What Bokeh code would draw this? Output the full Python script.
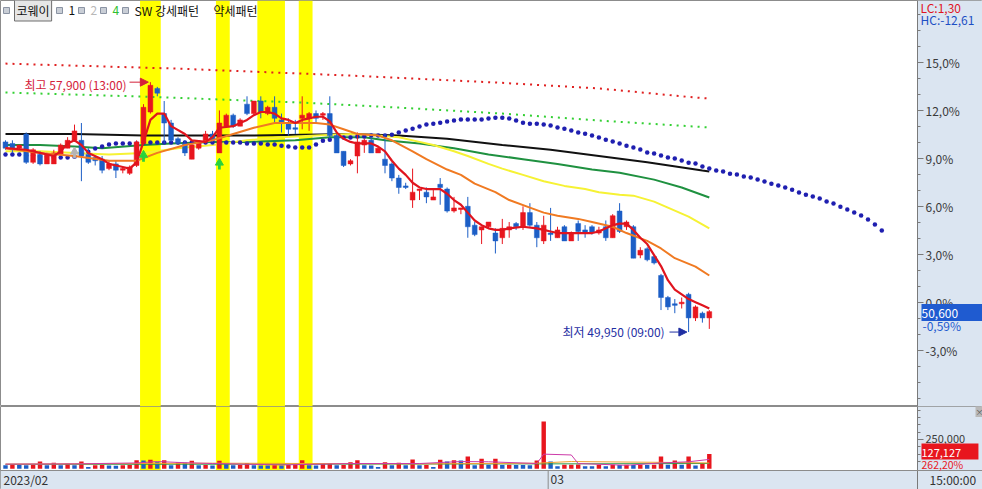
from bokeh.plotting import figure
from bokeh.layouts import column
from bokeh.models import (Range1d, Label, Arrow, NormalHead, FixedTicker, LinearAxis, Span,
                          CustomJSTickFormatter, NumeralTickFormatter)
from bokeh.embed import file_html
from bokeh.resources import INLINE

# ---------------- data ----------------
BASE = 50900            # previous close, 0.0 % line
stock_name = "코웨이"
open_ = [56000,55950,55800,56250,55350,55600,55300,55300,55600,55800,
         56050,56050,55600,55500,55450,55150,55300,55100,55000,55250,
         55950,56950,57700,56900,56600,56100,55950,55450,55800,56000,
         56250,55650,56500,56850,56500,57200,56900,57300,56900,57100,
         56700,56600,56450,56750,56750,56900,56850,56900,56200,55700,
         55300,55550,55900,56050,55650,55450,55300,54850,54600,54150,
         54450,54400,54150,54650,54500,53800,53850,53950,53350,53200,
         53300,53100,52950,53200,53400,53300,53750,53350,52850,53100,
         52950,53300,52850,53400,53200,53300,53100,53300,52950,53800,
         53300,53300,52400,52600,52350,51750,51050,50850,50850,51150,
         50400,50550,50400]
high = [56050,56050,55900,56300,55800,55700,55650,55750,55950,56150,
        56550,56600,55800,55550,55550,55400,55400,55200,55250,56050,
        57200,57900,57750,57300,56700,56150,56050,55950,56000,56350,
        56350,57000,56900,56900,56750,57450,57300,57450,57150,57450,
        56900,56750,56700,57450,56950,57000,56950,57450,56250,55700,
        55450,56300,56100,56150,55850,56250,55350,54950,54700,55150,
        54500,54550,54500,54850,54550,54250,53900,54250,53450,53300,
        53450,53250,53550,53450,53450,53950,54050,53450,53650,53900,
        53300,53350,53150,53500,53350,53350,53300,53500,53700,54050,
        53500,53350,52650,52650,52400,51800,51100,51000,51050,51200,
        50800,50600,50650]
low = [55750,55650,55750,55300,55300,55250,55300,55300,55550,55800,
       56000,54750,55300,55250,55000,55100,54850,55000,54950,55200,
       55900,56900,57450,55950,56000,55900,55550,55450,55750,55950,
       56000,55650,56450,56450,56500,56850,56850,56750,56850,56600,
       56300,56200,56250,56400,56350,56600,56700,56100,55650,55200,
       55250,55000,55650,55650,55650,55000,54750,54350,54500,53900,
       54150,54050,54150,54000,53750,53750,53700,52950,53000,52750,
       53250,52450,52750,52950,53200,53200,53300,52650,52750,52850,
       52950,52850,52850,52850,52950,53050,53050,52850,52950,53100,
       53200,52300,52300,52200,52100,50650,50650,50550,50700,49950,
       50300,50250,50050]
close = [55800,55750,55900,55350,55750,55300,55600,55650,55900,56050,
         56350,55550,55350,55400,55100,55300,55100,55150,55200,56000,
         57100,57800,57550,56600,56050,55950,55650,55900,56000,56250,
         56050,56600,56850,56500,56700,56900,57300,56950,57100,56750,
         56600,56400,56400,56850,56900,56750,56900,56200,55650,55250,
         55400,56000,56050,55650,55800,55250,54850,54550,54550,54400,
         54500,54250,54250,54550,53800,53900,53900,53300,53050,53300,
         53450,52850,53250,53300,53300,53750,53350,52950,53350,53050,
         53200,52850,53100,53150,53100,53100,53200,52950,53650,53150,
         53450,52300,52550,52250,52150,51050,50750,50800,50900,50400,
         50750,50400,50600]
volume = [30000,42000,35000,30000,32000,62000,30000,52000,31000,43000,
          30000,62000,15000,30000,33000,28000,27000,30000,33000,72000,
          70000,78000,56000,72000,30000,56000,52000,69000,30000,33000,
          29000,69000,43000,30000,32000,50000,30000,29000,28000,31000,
          29000,32000,34000,72000,30000,29000,43000,50000,30000,32000,
          55000,72000,30000,29000,15000,55000,30000,52000,30000,80000,
          30000,32000,15000,77000,62000,72000,71000,105000,30000,86000,
          34000,85000,33000,34000,33000,32000,31000,71000,403000,62000,
          21000,34000,35000,36000,22000,21000,34000,21000,34000,33000,
          35000,33000,35000,33000,35000,105000,34000,71000,34000,105000,
          28000,48484,127127]

# indicator lines (sampled: bar index, price)
ma_red_i = [0,3,5,7,8,9,10,11,12,14,15,17,18,19,20,21,22,23,24,26,27,29,30,31,33,34,35,36,37,38,
            39,40,41,42,43,44,45,46,47,48,49,50,51,52,53,54,55,56,57,58,59,60,61,63,64,65,66,67,68,69,
            70,71,72,73,75,77,78,79,80,85,86,87,88,89,90,91,92,93,94,95,96,97,98,99,100,101,102]
ma_red = [55800,55750,55650,55550,55700,55950,56050,55900,55650,55450,55300,55200,55150,55350,56000,56700,56900,56900,56500,56250,
          56050,56000,56150,56450,56500,56600,56700,56850,56950,56950,56900,56750,56700,56600,56700,56750,56800,56800,56650,56300,
          56100,56000,55950,55950,55950,55850,55700,55400,55150,54950,54700,54550,54500,54500,54350,54150,54000,53750,53500,53350,
          53250,53200,53200,53250,53300,53250,53200,53150,53100,53100,53150,53250,53350,53400,53400,53200,52950,52750,52400,52050,
          51600,51300,51150,51000,50900,50800,50700]
ma_orange_i = [0,5,10,15,19,22,26,30,33,36,39,42,45,47,49,51,54,56,59,61,64,66,68,71,73,76,78,80,83,85,88,90,93,95,97,100,102]
ma_orange = [55800,55650,55550,55400,55400,55650,55900,56050,56250,56450,56600,56600,56600,56550,56400,56250,56200,56050,55700,55450,
             55120,54950,54670,54400,54150,53910,53750,53650,53550,53450,53300,53100,52850,52610,52300,52030,51750]
ma_yellow_i = [0,5,10,15,20,25,30,35,40,45,50,54,57,60,62,65,67,70,72,75,78,81,84,86,89,91,94,96,99,102]
ma_yellow = [55700,55700,55650,55600,55650,55800,55900,56050,56150,56200,56250,56200,56150,56000,55900,55700,55550,55300,55150,54950,
             54750,54600,54500,54400,54320,54290,54100,53910,53620,53250]
ma_green_i = [0,5,10,14,20,24,30,35,42,47,52,55,60,65,70,75,80,85,89,94,98,102]
ma_green = [55900,55900,55850,55800,55900,55950,56000,56000,56050,56150,56150,56050,55950,55800,55600,55450,55300,55120,55020,54800,
            54550,54230]
ma_black_i = [0,10,20,35,50,57,64,72,79,86,93,101,102]
ma_black = [56250,56250,56200,56200,56250,56200,56100,55900,55750,55550,55350,55090,55060]
env_red_i = [0,25,50,71,86,100,102]
env_red = [58490,58330,58110,57890,57700,57410,57380]
env_green_i = [0,20,43,57,72,86,102]
env_green = [57570,57440,57250,57090,56900,56680,56460]
# leading span (one value per bar, runs 25 bars past the last candle)
span = [55600,55600,55600,55570,55570,55530,55530,55500,55500,55500,
        55530,55600,55690,55790,55850,55920,55950,55950,55950,55950,
        55980,55980,55980,55980,55980,55980,55980,55980,55980,55980,
        55980,55980,55980,55980,55980,55950,55950,55950,55920,55920,
        55880,55850,55820,55820,55820,55920,56040,56070,56110,56140,
        56140,56170,56170,56200,56200,56200,56230,56300,56360,56420,
        56490,56550,56580,56610,56650,56680,56710,56710,56710,56710,
        56740,56770,56770,56740,56680,56610,56580,56580,56550,56520,
        56460,56420,56360,56300,56260,56200,56140,56070,56010,55950,
        55880,55820,55760,55660,55630,55570,55500,55470,55410,55340,
        55310,55220,55150,
        55090,55060,54990,54960,54900,54870,54800,54740,54670,54610,
        54550,54480,54390,54320,54260,54200,54100,54040,53940,53850,
        53750,53660,53530,53370,53180]
# volume moving averages (sampled)
vma_a_i = [0,10,19,22,26,30,40,50,60,66,70,77,78,82,83,90,95,99,102]
vma_a = [40000,42000,50000,62000,52000,45000,33000,45000,45000,62000,60000,45000,125000,118000,45000,30000,50000,60000,80000]
vma_b_i = [0,30,60,77,82,95,102]
vma_b = [40000,48000,42000,48000,62000,55000,50000]
vma_c_i = [0,50,78,102]
vma_c = [38000,40000,42000,45000]

strong_idx = [20,21,22,31,32,37,38,39,40,43,44]   # SW 강세패턴 bars
buy_idx = [20, 31]
gray_idx = [10]
pct_ticks = [-3, 0, 3, 6, 9, 12, 15]
vol_ticks = [250000]
month_labels = ["2023/02", "03"]
month_start = 78
hi_time, lo_time, last_time = "13:00", "09:00", "15:00:00"

# ---------------- helpers ----------------
def pct(vals):
    return [(v / BASE - 1) * 100 for v in vals]

def fmt_pct(x, nd=2):
    return f"{x:.{nd}f}".replace(".", ",")

n = len(close)
idx = list(range(n))
UP, DN = "#e8161e", "#1c5ec6"
AXBG = "#dbe5f1"
GRID = "#8c8c8c"
FONT = "Noto Sans CJK KR"
cols = [UP if c >= o else DN for o, c in zip(open_, close)]
vcols = [DN] + [UP if volume[i] >= volume[i - 1] else DN for i in range(1, n)]

W, H_MAIN, H_VOL = 982, 406, 83

def rx(px):  # page pixel -> bar index
    return (px - 5) / 6.9
def ry(px):  # page pixel -> % (main panel)
    return (301.7 - px) / 16.0
def rv(px):  # page pixel -> volume (volume panel, page y)
    return (468.3 - px) * 8530

X0, X1 = rx(0), rx(W)
Y0, Y1 = ry(H_MAIN), ry(0)
V0, V1 = rv(489), rv(H_MAIN)
AX_X = rx(917)

def lab(fig, x, y, text, color="#222222", size="12px", align="left", bg=None, border=None, pad=0):
    kw = dict(x=x, y=y, text=text, text_color=color, text_font=FONT, text_font_size=size,
              text_align=align, text_baseline="middle")
    if bg is not None:
        kw["background_fill_color"] = bg
        kw["padding"] = pad
    if border is not None:
        kw["border_line_color"] = border
    fig.add_layout(Label(**kw))

def style_axis(ax, size="12px"):
    ax.major_tick_in = 0
    ax.major_tick_out = 6
    ax.minor_tick_in = 0
    ax.minor_tick_out = 3
    ax.axis_line_color = "#7a7a7a"
    ax.major_tick_line_color = "#7a7a7a"
    ax.minor_tick_line_color = "#7a7a7a"
    ax.major_label_text_font = FONT
    ax.major_label_text_font_size = size
    ax.major_label_text_color = "#3a3a3a"
    ax.major_label_standoff = 2

# contiguous runs of signal bars
runs = []
for i in sorted(strong_idx):
    if runs and i == runs[-1][1] + 1:
        runs[-1][1] = i
    else:
        runs.append([i, i])
band_l = [a - 0.5 for a, b in runs]
band_r = [b + 0.5 for a, b in runs]

xr = Range1d(X0, X1)

# ---------------- main price panel ----------------
p = figure(width=W, height=H_MAIN, x_range=xr, y_range=Range1d(Y0, Y1),
           x_axis_location=None, y_axis_location=None,
           output_backend="svg", toolbar_location=None, min_border=0,
           background_fill_color="white", border_fill_color="white", outline_line_color=GRID)
p.grid.visible = False
p.quad(left=AX_X, right=X1, bottom=Y0, top=Y1, fill_color=AXBG, line_color=None)
ya = LinearAxis(fixed_location=AX_X,
                ticker=FixedTicker(ticks=pct_ticks, minor_ticks=list(range(-6, 19))),
                formatter=CustomJSTickFormatter(code="return tick.toFixed(1).replace('.', ',') + '%';"))
style_axis(ya)
p.add_layout(ya, "right")

p.quad(left=band_l, right=band_r, bottom=Y0, top=Y1, fill_color="#ffff00", line_color=None)

p.line(ma_black_i, pct(ma_black), line_color="#111111", line_width=2)
p.line(ma_green_i, pct(ma_green), line_color="#1f9140", line_width=2)
p.line(ma_yellow_i, pct(ma_yellow), line_color="#f6f234", line_width=2)
p.line(env_red_i, pct(env_red), line_color="#e02020", line_width=2, line_dash="2 5")
p.line(env_green_i, pct(env_green), line_color="#33d033", line_width=2, line_dash="2 5")
p.scatter(list(range(len(span))), pct(span), size=4.5, fill_color="#1f1fb0", line_color=None)

p.segment(x0=idx, y0=pct(high), x1=idx, y1=pct(low), line_color=cols, line_width=1)
p.vbar(x=idx, width=0.7, top=pct([max(o, c) for o, c in zip(open_, close)]),
       bottom=pct([min(o, c) for o, c in zip(open_, close)]), fill_color=cols, line_color=cols, line_width=0.5)

p.line(ma_orange_i, pct(ma_orange), line_color="#f07a22", line_width=2)
p.line(ma_red_i, pct(ma_red), line_color="#e0141e", line_width=2.2)

# signal arrows under bars
def arrows(ids, color):
    hy = [(low[i] / BASE - 1) * 100 - 0.62 for i in ids]
    p.scatter(ids, hy, marker="triangle", size=8, fill_color=color, line_color=color)
    p.vbar(x=ids, width=0.4, top=[h - 0.1 for h in hy], bottom=[h - 0.42 for h in hy],
           fill_color=color, line_color=None)
arrows(buy_idx, "#2ad23c")
arrows(gray_idx, "#b4b4b4")

# high / low markers
max_hi = max(high); i_hi = high.index(max_hi)
min_lo = min(low); i_lo = low.index(min_lo)
HI_C, LO_C = "#d4213a", "#1f2fa3"
lab(p, rx(24), ry(84), f"최고 {max_hi:,} ({hi_time})", HI_C, "12px")
p.add_layout(Arrow(end=NormalHead(size=8, fill_color=HI_C, line_color=HI_C), x_start=rx(129),
                   y_start=pct([max_hi])[0], x_end=i_hi - 0.3, y_end=pct([max_hi])[0],
                   line_color=HI_C, line_width=1))
lab(p, rx(562), ry(331), f"최저 {min_lo:,} ({lo_time})", LO_C, "12px")
p.add_layout(Arrow(end=NormalHead(size=8, fill_color=LO_C, line_color=LO_C), x_start=rx(669),
                   y_start=pct([min_lo])[0], x_end=i_lo - 0.25, y_end=pct([min_lo])[0],
                   line_color=LO_C, line_width=1))

# legend row
p.scatter([rx(x) for x in (6, 59, 81, 103, 125)], [ry(10)] * 5, marker="square", size=6,
          fill_color="#c9ced6", line_color="#8a93a3")
lab(p, rx(14), ry(10), stock_name, "#111111", "12px", bg="#e6e6e6", border="#6e6e6e", pad=2)
lab(p, rx(68), ry(10), "1", "#111111", "12px")
lab(p, rx(90), ry(10), "2", "#b8b8b8", "12px")
lab(p, rx(112), ry(10), "4", "#2fc02f", "12px")
lab(p, rx(134), ry(10), "SW 강세패턴", "#111111", "12px")
lab(p, rx(213), ry(10), "약세패턴", "#111111", "12px")

# right axis readouts
last = close[-1]
lab(p, rx(920), ry(7), "LC:" + fmt_pct((last / min_lo - 1) * 100), "#e0141e", "12px")
lab(p, rx(920), ry(19), "HC:" + fmt_pct((last / max_hi - 1) * 100), "#1d4fc4", "12px")
lab(p, rx(921), pct([last])[0] - 0.05, f"{last:,}" + "\u00a0" * 9, "white", "12px", bg="#1f5bd0", pad=0)
lab(p, rx(922), ry(325), fmt_pct((last / BASE - 1) * 100) + "%", "#1f5bd0", "12px")

# ---------------- volume panel ----------------
v = figure(width=W, height=H_VOL, x_range=xr, y_range=Range1d(V0, V1),
           x_axis_location=None, y_axis_location=None,
           output_backend="svg", toolbar_location=None, min_border=0,
           background_fill_color="white", border_fill_color="white", outline_line_color=GRID)
v.grid.visible = False
v.quad(left=X0, right=X1, bottom=V0, top=rv(470), fill_color=AXBG, line_color=None)
v.quad(left=AX_X, right=X1, bottom=rv(470), top=V1, fill_color=AXBG, line_color=None)
v.add_layout(Span(location=rv(470), dimension="width", line_color=GRID, line_width=1))
va = LinearAxis(fixed_location=AX_X,
                ticker=FixedTicker(ticks=vol_ticks, minor_ticks=[62500 * k for k in range(1, 9)]),
                formatter=NumeralTickFormatter(format="0,0"))
style_axis(va, "11px")
v.add_layout(va, "right")

v.quad(left=band_l, right=band_r, bottom=rv(470), top=V1, fill_color="#ffff00", line_color=None)
v.vbar(x=idx, width=0.64, top=volume, bottom=0, fill_color=vcols, line_color=None)
v.line(vma_c_i, vma_c, line_color="#2f9a4a", line_width=1)
v.line(vma_b_i, vma_b, line_color="#f0a030", line_width=1)
v.line(vma_a_i, vma_a, line_color="#cc3aa8", line_width=1)

lab(v, rx(921), rv(451), f"{volume[-1]:,}" + "\u00a0" * 7, "white", "11px", bg="#e8161e", pad=0)
lab(v, rx(921), rv(463.5), fmt_pct(volume[-1] / volume[-2] * 100) + "%", "#e8161e", "10.5px")
lab(v, rx(975), rv(411), "×", "#555555", "8px", bg="#b9b9b9")

# date strip
sep = month_start + 0.65
v.segment(x0=[sep], y0=[V0], x1=[sep], y1=[rv(470)], line_color=GRID, line_width=1)
lab(v, rx(3), rv(479), month_labels[0], "#333333", "12px")
lab(v, rx(550), rv(479), month_labels[1], "#333333", "12px")
lab(v, rx(929), rv(479), last_time, "#333333", "12px")

layout = column(p, v, spacing=0)
open("out.html", "w").write(file_html(layout, INLINE))
